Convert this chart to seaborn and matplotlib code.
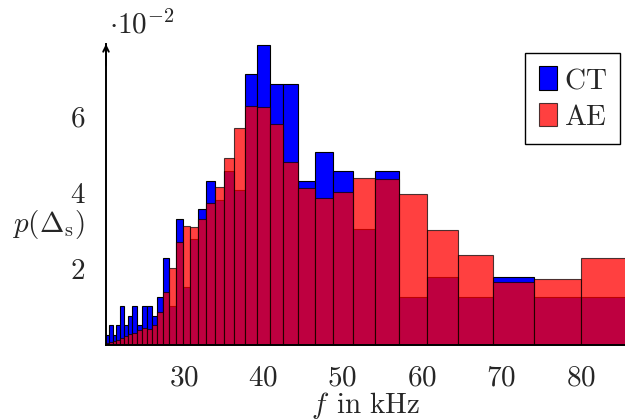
"""
Histogram of the spacing of CT and AE over frequency.
"""

import matplotlib
matplotlib.use('Agg')
import matplotlib.pyplot as plt
import seaborn as sns
import numpy as np
import pandas as pd
from matplotlib.ticker import FuncFormatter

# Bins are one sample wide in period (µs), f = 1000 / N in kHz
n_samples = np.arange(49, 11, -1)
bin_edges = list(1000.0 / np.arange(49.5, 11.0, -1))
bin_centers = 1000.0 / n_samples

# p(Δs) per bin (order: N = 49 ... 12)
ct_values = [0.0025, 0.0051, 0.0025, 0.0051, 0.0101, 0.0051, 0.0076, 0.0101,
             0.0051, 0.0101, 0.0101, 0.0076, 0.0126, 0.0227, 0.0101, 0.0328,
             0.0152, 0.0278, 0.0354, 0.0429, 0.0379, 0.0454, 0.0404, 0.0707,
             0.0783, 0.0682, 0.0682, 0.0429, 0.0505, 0.0454, 0.0303, 0.0454,
             0.0126, 0.0177, 0.0126, 0.0177, 0.0126, 0.0126]
ae_values = [0.0005, 0.0008, 0.0010, 0.0013, 0.0017, 0.0024, 0.0028, 0.0032,
             0.0038, 0.0044, 0.0042, 0.0051, 0.0087, 0.0138, 0.0200, 0.0270,
             0.0310, 0.0307, 0.0330, 0.0370, 0.0413, 0.0487, 0.0566, 0.0623,
             0.0621, 0.0576, 0.0479, 0.0411, 0.0383, 0.0399, 0.0435, 0.0433,
             0.0395, 0.0301, 0.0235, 0.0165, 0.0172, 0.0228]

x_ticks = [30, 40, 50, 60, 70, 80]
y_ticks = [0.02, 0.04, 0.06]

data = pd.DataFrame({'f': bin_centers, 'ct': ct_values, 'ae': ae_values})

sns.set_style('white')
plt.rcParams['mathtext.fontset'] = 'cm'
plt.rcParams['font.family'] = ['DejaVu Serif']

fig = plt.figure(figsize=(6.25, 4.2), dpi=100)
ax = fig.add_axes([0.1696, 0.1786, 0.8304, 0.7167])

# CT opaque, AE transparent on top
sns.histplot(data=data, x='f', weights='ct', bins=bin_edges, stat='count',
             color='#0000ff', alpha=1.0, edgecolor='black', linewidth=0.8,
             label=r'$\mathrm{CT}$', ax=ax)
sns.histplot(data=data, x='f', weights='ae', bins=bin_edges, stat='count',
             color='#ff0000', alpha=0.75, edgecolor=(0, 0, 0, 0.7), linewidth=0.8,
             label=r'$\mathrm{AE}$', ax=ax)

ax.set_xlim(1000.0 / 49.5, 85.6)
ax.set_ylim(0, 0.0786)

ax.set_xticks(x_ticks)
ax.set_yticks(y_ticks)
ax.xaxis.set_major_formatter(FuncFormatter(lambda v, p: f'${v:g}$'))
ax.yaxis.set_major_formatter(FuncFormatter(lambda v, p: f'${v * 100:g}$'))
ax.tick_params(axis='x', direction='out', length=8, width=1, color='#b0b0b0',
               labelsize=21, pad=5)
ax.tick_params(axis='y', direction='out', length=5, width=1, color='#b0b0b0',
               labelsize=21, pad=10)

for side in ['top', 'right']:
    ax.spines[side].set_visible(False)
for side in ['left', 'bottom']:
    ax.spines[side].set_color('black')
    ax.spines[side].set_linewidth(1.4)

# arrow at the end of the y axis
ax.annotate('', xy=(0, 1.0), xytext=(0, 0.93), xycoords='axes fraction',
            arrowprops=dict(arrowstyle='->', color='black', lw=1.4,
                            shrinkA=0, shrinkB=0), annotation_clip=False)

ax.set_xlabel(r'$f\;\,\mathrm{in\ kHz}$', fontsize=21, labelpad=-1)
ax.set_ylabel(r'$p(\Delta_{\mathrm{s}})$', fontsize=21, rotation=0,
              ha='right', va='center')
ax.yaxis.set_label_coords(-0.04, 0.40)

ax.text(0.006, 1.035, r'$\cdot 10^{-2}$', transform=ax.transAxes,
        fontsize=21, ha='left', va='baseline')

ax.legend(loc='upper right', bbox_to_anchor=(620 / 625, 1 - 53 / 420),
          bbox_transform=fig.transFigure, borderaxespad=0, fontsize=21,
          frameon=True, fancybox=False, edgecolor='black', framealpha=1,
          handlelength=0.62, handleheight=0.85, handletextpad=0.25,
          borderpad=0.45, labelspacing=0.3)
ax.get_legend().get_frame().set_linewidth(1.0)

fig.savefig('out.png', dpi=100)
